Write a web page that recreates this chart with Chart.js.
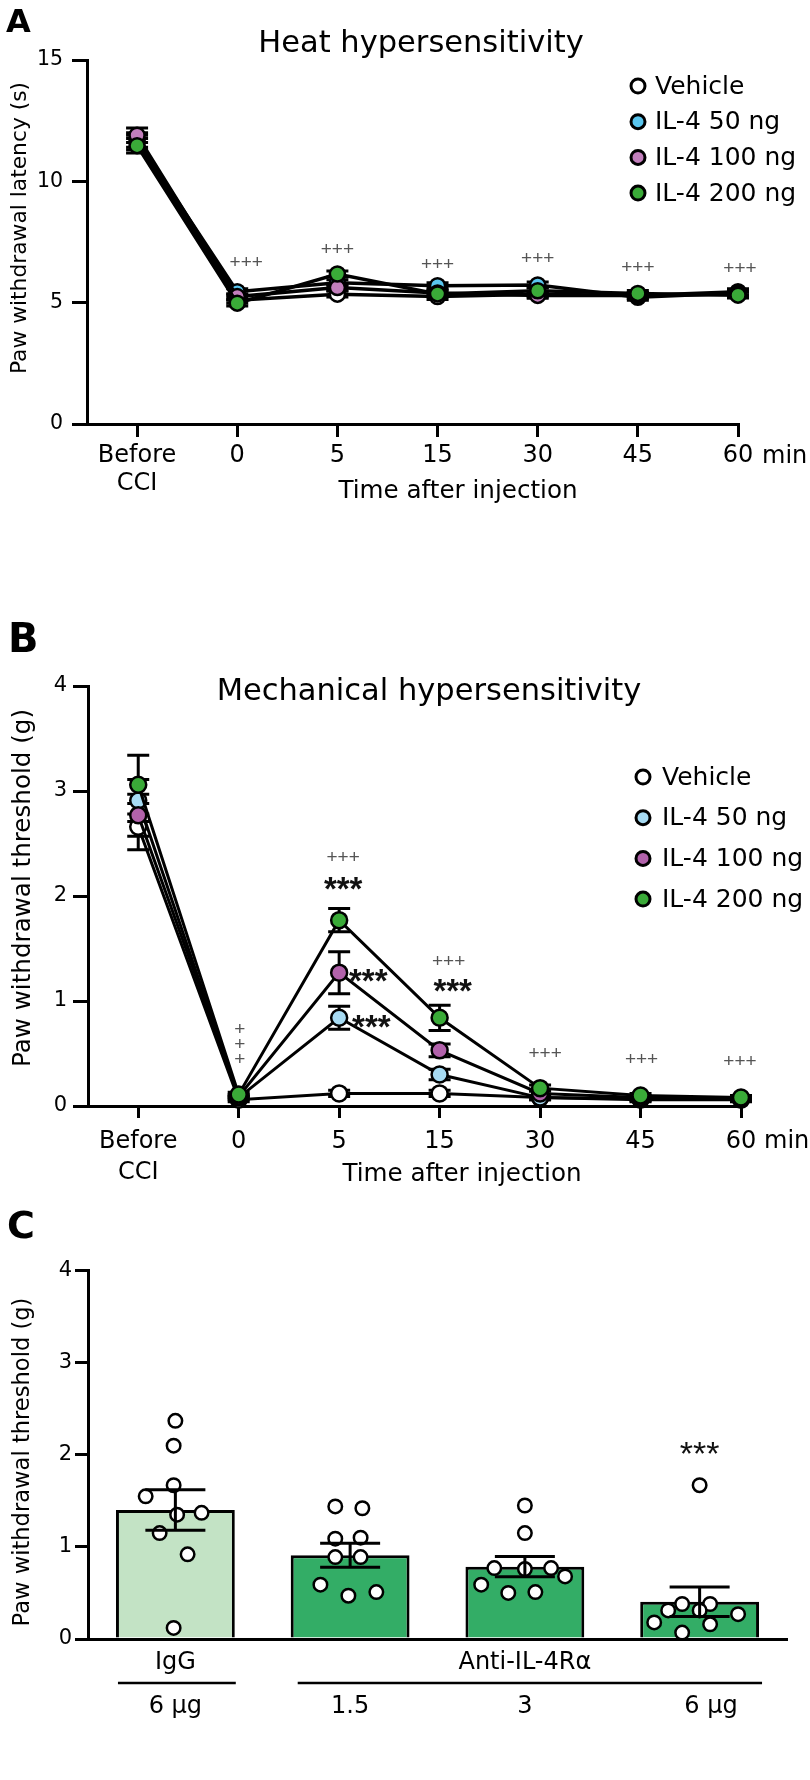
<!DOCTYPE html>
<html><head><meta charset="utf-8">
<script src="https://cdn.jsdelivr.net/npm/chart.js@4"></script>
<style>
body{margin:0;background:#fff;width:810px;height:1780px;position:relative;overflow:hidden}
canvas{position:absolute;left:0}
</style></head><body>
<canvas id="cA" width="810" height="530" style="top:0"></canvas>
<canvas id="cB" width="810" height="660" style="top:540px"></canvas>
<canvas id="cC" width="810" height="580" style="top:1200px"></canvas>
<script>
// ================= DATA =================
const timeLabels = [['Before','CCI'], '0', '5', '15', '30', '45', '60'];
const timeUnit = 'min';
const groupNames = ['Vehicle', 'IL-4 50 ng', 'IL-4 100 ng', 'IL-4 200 ng'];

// Panel A – heat, paw withdrawal latency (s)
const heatTicks = [0, 5, 10, 15];
const heatVehicle = [11.60, 5.10, 5.35, 5.25, 5.35, 5.30, 5.45];
const heatIL50    = [11.70, 5.45, 5.82, 5.70, 5.73, 5.22, 5.40];
const heatIL100   = [11.90, 5.25, 5.62, 5.40, 5.30, 5.30, 5.35];
const heatIL200   = [11.47, 4.98, 6.18, 5.36, 5.49, 5.38, 5.31];
const heatSemVehicle = [0.30, 0.12, 0.12, 0.12, 0.12, 0.12, 0.12];
const heatSemIL50    = [0.30, 0.12, 0.12, 0.12, 0.12, 0.12, 0.12];
const heatSemIL100   = [0.30, 0.12, 0.12, 0.12, 0.12, 0.12, 0.12];
const heatSemIL200   = [0.30, 0.12, 0.12, 0.12, 0.12, 0.12, 0.12];
const heatMarks = [['+++',1.09,6.63],['+++',2,7.17],['+++',3,6.55],['+++',4,6.8],['+++',5,6.43],['+++',6.02,6.39]];

// Panel B – mechanical, paw withdrawal threshold (g)
const mechTicks = [0, 1, 2, 3, 4];
const mechVehicle = [2.66, 0.06, 0.12, 0.12, 0.08, 0.06, 0.06];
const mechIL50    = [2.91, 0.08, 0.84, 0.30, 0.08, 0.07, 0.07];
const mechIL100   = [2.77, 0.09, 1.27, 0.53, 0.12, 0.08, 0.07];
const mechIL200   = [3.06, 0.11, 1.77, 0.84, 0.17, 0.10, 0.08];
const mechSemVehicle = [0.22, 0.02, 0.03, 0.03, 0.02, 0.02, 0.02];
const mechSemIL50    = [0.20, 0.02, 0.11, 0.05, 0.02, 0.02, 0.02];
const mechSemIL100   = [0.20, 0.02, 0.20, 0.06, 0.03, 0.02, 0.02];
const mechSemIL200   = [0.28, 0.02, 0.11, 0.12, 0.03, 0.02, 0.02];
const mechPlusMarks = [['+',1.01,0.724],['+',1.01,0.581],['+',1.01,0.438],['+++',2.04,2.36],['+++',3.09,1.37],['+++',4.05,0.50],['+++',5.01,0.44],['+++',5.99,0.42]];
const mechStarMarks = [['***',2.04,2.12],['***',2.29,1.25],['***',2.32,0.81],['***',3.13,1.15]];

// Panel C – anti-IL-4Rα
const abTickLabels = [['IgG','','6 μg'], ['','','1.5'], ['Anti-IL-4Rα','','3'], ['','','   6 μg']];
const abMeans = [1.40, 0.91, 0.785, 0.405];
const abSem   = [0.22, 0.13, 0.11, 0.16];
const abPoints = [
  [2.37, 2.10, 1.67, 1.55, 1.35, 1.37, 1.15, 0.92, 0.12],
  [1.44, 1.42, 1.09, 1.10, 0.89, 0.89, 0.59, 0.47, 0.51],
  [1.45, 1.15, 0.77, 0.76, 0.77, 0.68, 0.59, 0.50, 0.51],
  [1.67, 0.31, 0.38, 0.38, 0.31, 0.27, 0.18, 0.16, 0.07]
];
const abJitter = [
  [0, -0.01, -0.01, -0.17, 0.01, 0.15, -0.09, 0.07, -0.01],
  [-0.085, 0.07, -0.085, 0.06, -0.085, 0.06, -0.17, -0.01, 0.15],
  [0, 0, -0.175, 0, 0.15, 0.23, -0.25, -0.095, 0.06],
  [0, -0.18, -0.10, 0.06, 0, 0.22, -0.26, 0.06, -0.10]
];
const abStarMarks = [['***', 3, 2.08]];

// colours
const heatColors = ['#ffffff', '#5ac6ef', '#c27fbc', '#3aaa38'];
const mechColors = ['#ffffff', '#a7dbf3', '#b262ab', '#3aaa38'];
const abColors = ['#c3e3c5', '#33ad66', '#33ad66', '#33ad66'];

// ================= HELPERS =================
Chart.defaults.font.family = "'DejaVu Sans', sans-serif";
Chart.defaults.color = '#000';
Chart.defaults.animation = false;
const SANS = "'DejaVu Sans', sans-serif";
const ARIAL = "'Liberation Sans', Arial, sans-serif";

function drawText(ctx, s, x, y, font, opt) {
  opt = opt || {};
  ctx.save();
  ctx.font = font; ctx.fillStyle = opt.color || '#000';
  ctx.textAlign = opt.align || 'center'; ctx.textBaseline = opt.baseline || 'middle';
  if (opt.rotate) { ctx.translate(x, y); ctx.rotate(opt.rotate); ctx.fillText(s, 0, 0); }
  else ctx.fillText(s, x, y);
  ctx.restore();
}

function lineDatasets(seriesList, colors, r, bw, lw) {
  return seriesList.map((vals, i) => ({
    label: groupNames[i],
    data: vals.map((v, j) => ({x: j, y: v})),
    borderColor: '#000', borderWidth: lw, backgroundColor: colors[i],
    pointBackgroundColor: colors[i], pointBorderColor: '#000',
    pointBorderWidth: bw, pointRadius: r, tension: 0, clip: false,
    order: seriesList.length - i
  }));
}

function errorBars(chart, semList, capHalf, lw) {
  const ctx = chart.ctx, ys = chart.scales.y;
  ctx.save(); ctx.strokeStyle = '#000'; ctx.lineWidth = lw;
  semList.forEach((sem, i) => {
    if (!sem) return;
    const meta = chart.getDatasetMeta(i), ds = chart.data.datasets[i];
    meta.data.forEach((el, j) => {
      const raw = ds.data[j]; const v = (typeof raw === 'number') ? raw : raw.y;
      const x = el.x, t = ys.getPixelForValue(v + sem[j]), b = ys.getPixelForValue(v - sem[j]);
      ctx.beginPath();
      ctx.moveTo(x, t); ctx.lineTo(x, b);
      ctx.moveTo(x - capHalf, t); ctx.lineTo(x + capHalf, t);
      ctx.moveTo(x - capHalf, b); ctx.lineTo(x + capHalf, b);
      ctx.stroke();
    });
  });
  ctx.restore();
}

function drawLegend(ctx, colors, x0, y0, dy, tx, fontPx) {
  groupNames.forEach((n, i) => {
    const y = y0 + i * dy;
    ctx.save(); ctx.beginPath(); ctx.arc(x0, y, 7, 0, Math.PI * 2);
    ctx.fillStyle = colors[i]; ctx.fill(); ctx.lineWidth = 3; ctx.strokeStyle = '#000'; ctx.stroke(); ctx.restore();
    drawText(ctx, n, tx, y + 1, fontPx + 'px ' + SANS, {align: 'left'});
  });
}

function drawMarks(chart, marks, xScaleId, font, color, shift) {
  const xs = chart.scales[xScaleId], ys = chart.scales.y;
  marks.forEach(m => drawText(chart.ctx, m[0], xs.getPixelForValue(m[1]), ys.getPixelForValue(m[2]) + shift, font, {color}));
}

function axisCommon(tickLen, tickPad, fontSize) {
  return {
    grid: {drawOnChartArea: false, tickLength: tickLen, lineWidth: 3, color: '#000'},
    border: {width: 3, color: '#000'},
    ticks: {padding: tickPad, font: {size: fontSize}, color: '#000', autoSkip: false, maxRotation: 0}
  };
}

function indexAxis(labels, tickLen, pad, lh, height) {
  const a = axisCommon(tickLen, pad, 24);
  a.type = 'linear'; a.offset = false; a.min = -0.5; a.max = labels.length - 1;
  a.afterBuildTicks = s => { s.ticks = labels.map((_, i) => ({value: i})); };
  a.afterFit = s => { s.height = height; };
  a.ticks.callback = v => labels[v];
  a.ticks.font.lineHeight = lh;
  return a;
}
function valueAxis(tickVals, max, tickLen, pad, fontSize, width) {
  const a = axisCommon(tickLen, pad, fontSize);
  a.min = 0; a.max = max;
  a.afterBuildTicks = s => { s.ticks = tickVals.map(v => ({value: v})); };
  a.afterFit = s => { s.width = width; };
  return a;
}

// ================= PANEL A =================
new Chart(document.getElementById('cA'), {
  type: 'line',
  data: {datasets: lineDatasets([heatVehicle, heatIL50, heatIL100, heatIL200], heatColors, 7.5, 2.5, 3.5)},
  options: {
    responsive: false, devicePixelRatio: 1, events: [],
    layout: {padding: {left: 0, top: 60, right: 72, bottom: 0}},
    plugins: {legend: {display: false}, tooltip: {enabled: false}},
    scales: {
      x: indexAxis(timeLabels, 13, 5, '28px', 106),
      y: valueAxis(heatTicks, 15, 15, 9, 20.5, 87)
    }
  },
  plugins: [{
    id: 'decoA',
    beforeDatasetsDraw(c) { errorBars(c, [heatSemVehicle, heatSemIL50, heatSemIL100, heatSemIL200], 11, 3); },
    afterDraw(c) {
      const ctx = c.ctx, xs = c.scales.x;
      drawText(ctx, 'A', 6, 32, 'bold 32px ' + SANS, {align: 'left', baseline: 'alphabetic'});
      drawText(ctx, 'Heat hypersensitivity', 421, 44, '30.5px ' + SANS);
      drawText(ctx, 'Paw withdrawal latency (s)', 20, 228, '21.8px ' + SANS, {rotate: -Math.PI / 2});
      drawText(ctx, 'Time after injection', 458, 492, '24.6px ' + SANS);
      drawText(ctx, timeUnit, xs.getPixelForValue(timeLabels.length - 1) + 24, 457, '24px ' + SANS, {align: 'left'});
      drawLegend(ctx, heatColors, 638, 86, 35.7, 655, 25);
      drawMarks(c, heatMarks, 'x', '19px ' + ARIAL, '#555', 0);
    }
  }]
});

// ================= PANEL B =================
new Chart(document.getElementById('cB'), {
  type: 'line',
  data: {datasets: lineDatasets([mechVehicle, mechIL50, mechIL100, mechIL200], mechColors, 8, 2.5, 3)},
  options: {
    responsive: false, devicePixelRatio: 1, events: [],
    layout: {padding: {left: 0, top: 146, right: 69, bottom: 0}},
    plugins: {legend: {display: false}, tooltip: {enabled: false}},
    scales: {
      x: indexAxis(timeLabels, 12, 8.5, '31px', 94),
      y: valueAxis(mechTicks, 4, 15, 6, 21, 88)
    }
  },
  plugins: [{
    id: 'decoB',
    beforeDatasetsDraw(c) { errorBars(c, [mechSemVehicle, mechSemIL50, mechSemIL100, mechSemIL200], 11, 3); },
    afterDraw(c) {
      const ctx = c.ctx, xs = c.scales.x;
      drawText(ctx, 'B', 8, 112, 'bold 40px ' + SANS, {align: 'left', baseline: 'alphabetic'});
      drawText(ctx, 'Mechanical hypersensitivity', 429, 152, '30.5px ' + SANS);
      drawText(ctx, 'Paw withdrawal threshold (g)', 24, 348, '24.6px ' + SANS, {rotate: -Math.PI / 2});
      drawText(ctx, 'Time after injection', 462, 635, '24.6px ' + SANS);
      drawText(ctx, timeUnit, xs.getPixelForValue(timeLabels.length - 1) + 23, 602, '24px ' + SANS, {align: 'left'});
      drawLegend(ctx, mechColors, 643, 237, 40.7, 662, 25);
      drawMarks(c, mechPlusMarks, 'x', '19px ' + ARIAL, '#555', 0);
      drawMarks(c, mechStarMarks, 'x', 'bold 33px ' + ARIAL, '#111', 8);
    }
  }]
});

// ================= PANEL C =================
const xC = indexAxis(abTickLabels, 0, 13, '22px', 141);
xC.max = abTickLabels.length - 0.5;
xC.grid = {display: false, drawTicks: false};

new Chart(document.getElementById('cC'), {
  type: 'bar',
  data: {
    datasets: [
      {type: 'bar', data: abMeans.map((v, i) => ({x: i, y: v})), backgroundColor: abColors,
       borderColor: '#000', borderWidth: 3, barPercentage: 0.68, categoryPercentage: 1, grouped: false, order: 1},
      {type: 'scatter',
       data: abPoints.flatMap((pts, g) => pts.map((v, k) => ({x: g + abJitter[g][k], y: v}))),
       pointRadius: 6.75, pointBorderWidth: 2.5, pointBackgroundColor: '#fff', pointBorderColor: '#000',
       showLine: false, clip: false, order: 0}
    ]
  },
  options: {
    responsive: false, devicePixelRatio: 1, events: [],
    layout: {padding: {left: 0, top: 70.7, right: 23, bottom: 0}},
    plugins: {legend: {display: false}, tooltip: {enabled: false}},
    scales: {
      x: xC,
      y: valueAxis(mechTicks, 4, 13, 3, 21, 88)
    }
  },
  plugins: [{
    id: 'decoC',
    afterDatasetsDraw(c) { errorBars(c, [abSem, null], 30, 3); },
    afterDraw(c) {
      const ctx = c.ctx, bars = c.getDatasetMeta(0).data, yb = c.chartArea.bottom + 44;
      drawText(ctx, 'C', 7, 38, 'bold 38px ' + SANS, {align: 'left', baseline: 'alphabetic'});
      drawText(ctx, 'Paw withdrawal threshold (g)', 23, 262, '22.6px ' + SANS, {rotate: -Math.PI / 2});
      ctx.save(); ctx.strokeStyle = '#000'; ctx.lineWidth = 2.5; ctx.beginPath();
      ctx.moveTo(bars[0].x - bars[0].width / 2 + 2, yb); ctx.lineTo(bars[0].x + bars[0].width / 2 + 1, yb);
      ctx.moveTo(bars[1].x - bars[1].width / 2 + 7, yb); ctx.lineTo(bars[3].x + bars[3].width / 2 + 3, yb);
      ctx.stroke(); ctx.restore();
      drawMarks(c, abStarMarks, 'x', '34px ' + ARIAL, '#111', 8);
    }
  }]
});
</script>
</body></html>
